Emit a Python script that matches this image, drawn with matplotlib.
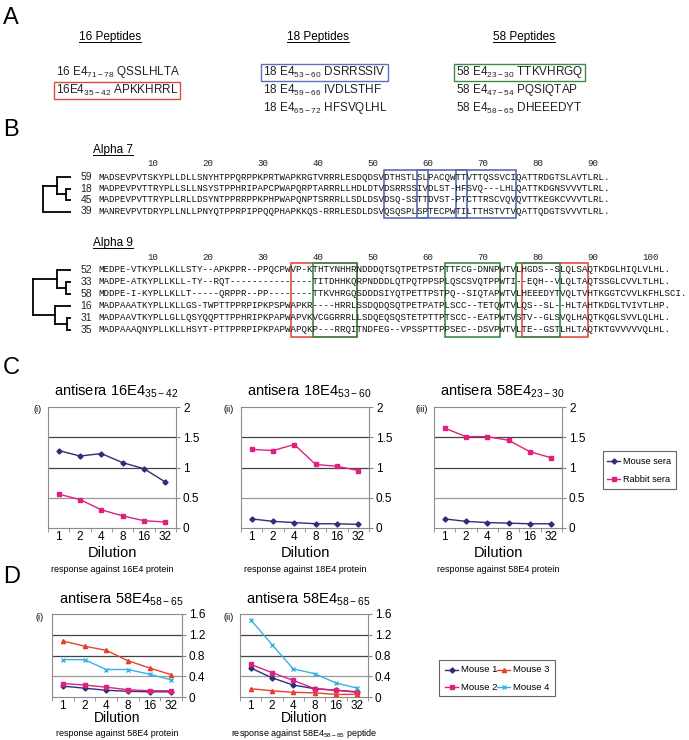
"""E4 peptide panels: peptide list, alpha-7 / alpha-9 alignments, ELISA titrations."""
import matplotlib
matplotlib.use("Agg")
import matplotlib.pyplot as plt
from matplotlib.patches import Rectangle
import numpy as np

W, H = 689, 740

# ---- panel A: peptides (prefix, residue range, sequence)
PEP16 = [("16 E4", "71-78", "QSSLHLTA"), ("16E4", "35-42", "APKKHRRL")]
PEP18 = [("18 E4", "53-60", "DSRRSSIV"), ("18 E4", "59-66", "IVDLSTHF"), ("18 E4", "65-72", "HFSVQLHL")]
PEP58 = [("58 E4", "23-30", "TTKVHRGQ"), ("58 E4", "47-54", "PQSIQTAP"), ("58 E4", "58-65", "DHEEEDYT")]

# ---- panel B: alignments
A7_NAMES = ["59", "18", "45", "39"]
A7_SEQS = [
    "MADSEVPVTSKYPLLDLLSNYHTPPQRPPKPRTWAPKRGTVRRRLESDQDSVDTHSTLSLPACQWTTVTTQSSVCIQATTRDGTSLAVTLRL.",
    "MADPEVPVTTRYPLLSLLNSYSTPPHRIPAPCPWAPQRPTARRRLLHDLDTVDSRRSSIVDLST-HFSVQ---LHLQATTKDGNSVVVTLRL.",
    "MADPEVPVTTRYPLLRLLDSYNTPPRRPPKPHPWAPQNPTSRRRLLSDLDSVDSQ-SSTTDVST-PTCTTRSCVQVQVTTKEGKCVVVTLRL.",
    "MANREVPVTDRYPLLNLLPNYQTPPRPIPPQQPHAPKKQS-RRRLESDLDSVQSQSPLSPTECPWTILTTHSTVTVQATTQDGTSVVVTLRL.",
]
A9_NAMES = ["52", "33", "58", "16", "31", "35"]
A9_SEQS = [
    "MEDPE-VTKYPLLKLLSTY--APKPPR--PPQCPWVP-KTHTYNHHRNDDDQTSQTPETPSTPTTFCG-DNNPWTVLHGDS--SLQLSAQTKDGLHIQLVLHL.",
    "MADPE-ATKYPLLKLL-TY--RQT---------------TITDHHKQRPNDDDLQTPQTPPSPLQSCSVQTPPWTI--EQH--VLQLTAQTSSGLCVVLTLHL.",
    "MDDPE-I-KYPLLKLLT-----QRPPR--PP--------TTKVHRGQSDDDSIYQTPETTPSTPQ--SIQTAPWTVLHEEEDYTVQLTVHTKGGTCVVLKFHLSCI.",
    "MADPAAATKYPLLKLLGS-TWPTTPPRPIPKPSPWAPKR----HRRLSSDQDQSQTPETPATPLSCC--TETQWTVLQS--SL--HLTAHTKDGLTVIVTLHP.",
    "MADPAAVTKYPLLGLLQSYQQPTTPPHRIPKPAPWAPVKVCGGRRRLLSDQEQSQSTETPTTPTSCC--EATPWTVSTV--GLSVQLHAQTKQGLSVVLQLHL.",
    "MADPAAAQNYPLLKLLHSYT-PTTPPRPIPKPAPWAPQKP---RRQITNDFEG--VPSSPTTPPSEC--DSVPWTVLTE--GSTLHLTAQTKTGVVVVVQLHL.",
]
A7_RULER = [10, 20, 30, 40, 50, 60, 70, 80, 90]
A9_RULER = [10, 20, 30, 40, 50, 60, 70, 80, 90, 100]
# boxed alignment columns (first, last)
A7_BLUE = [(53, 60), (59, 67), (66, 76)]
A9_RED = [(36, 47), (78, 89)]
A9_GREEN = [(40, 47), (64, 73), (77, 84)]
# trees: (node x, child, child), leaves are row indices
A7_TREE = (43, (57, 0, (66, 1, 2)), 3)
A9_TREE = (33, (57, 0, (66, 1, 2)), (55, 3, (67, 4, 5)))

# ---- panels C / D: ELISA titrations
DILUTION = ["1", "2", "4", "8", "16", "32"]
C_PEPTIDE = [("16E4", "35-42"), ("18E4", "53-60"), ("58E4", "23-30")]
C_TARGET = ["16E4 protein", "18E4 protein", "58E4 protein"]
C_MOUSE = [[1.28, 1.19, 1.23, 1.08, 0.98, 0.76],
           [0.15, 0.11, 0.09, 0.07, 0.07, 0.06],
           [0.15, 0.11, 0.09, 0.08, 0.07, 0.07]]
C_RABBIT = [[0.56, 0.47, 0.30, 0.20, 0.12, 0.10],
            [1.30, 1.28, 1.38, 1.05, 1.02, 0.95],
            [1.65, 1.51, 1.51, 1.45, 1.26, 1.16]]
D_TARGET = ["58E4 protein", "58E4$_{58-65}$ peptide"]
D_MOUSE1 = [[0.21, 0.17, 0.13, 0.11, 0.10, 0.10], [0.56, 0.37, 0.23, 0.16, 0.13, 0.10]]
D_MOUSE2 = [[0.26, 0.23, 0.19, 0.14, 0.12, 0.12], [0.63, 0.47, 0.32, 0.16, 0.13, 0.09]]
D_MOUSE3 = [[1.08, 0.98, 0.90, 0.70, 0.56, 0.43], [0.16, 0.12, 0.09, 0.08, 0.05, 0.05]]
D_MOUSE4 = [[0.72, 0.72, 0.53, 0.53, 0.44, 0.33], [1.49, 1.01, 0.54, 0.45, 0.27, 0.17]]

NAVY, MAGENTA, RED, CYAN = "#2e2f7a", "#e0207f", "#e8402e", "#33b3e5"
STYLE = {"Mouse 1": (NAVY, "D", 2.6), "Mouse 2": (MAGENTA, "s", 2.6),
         "Mouse 3": (RED, "^", 3.0), "Mouse 4": (CYAN, "x", 3.0)}

plt.rcParams["font.family"] = "Liberation Sans"
plt.rcParams["mathtext.default"] = "regular"

fig = plt.figure(figsize=(W / 100, H / 100), dpi=100)
ov = fig.add_axes([0, 0, 1, 1])
ov.set_xlim(0, W); ov.set_ylim(H, 0); ov.axis("off")


def txt(x, y, s, size, **kw):
    kw.setdefault("va", "center"); kw.setdefault("ha", "left")
    return ov.text(x, y, s, fontsize=size, **kw)


def rect(x0, y0, x1, y1):
    return [x0 / W, 1 - y1 / H, (x1 - x0) / W, (y1 - y0) / H]


for letter, y in (("A", 18), ("B", 130), ("C", 368), ("D", 577)):
    txt(3, y, letter, 17)

# ---------------- A
underline = []
for cx, name in ((110, "16 Peptides"), (318, "18 Peptides"), (524, "58 Peptides")):
    underline.append(txt(cx, 37, name, 8.5, ha="center"))
row_y = [72, 90, 108]
pep_text = {}
for j, (x0, peps) in enumerate(((56, PEP16), (263, PEP18), (456, PEP58))):
    for i, ((pre, rng, seq), y) in enumerate(zip(peps, row_y)):
        pep_text[j, i] = txt(x0, y, f"{pre}$_{{{rng}}}$ {seq}", 8.5, color="#222")
boxed = {(0, 1): "#e0483a", (1, 0): "#6070b8", (2, 0): "#3a8a4a"}

# ---------------- B
CW = 5.5
SEQ_X0 = 98
MONO = "Liberation Mono"
SEQ_SIZE = CW / 0.6 * 72 / 100


def col_x(c):
    return SEQ_X0 + (c - 1) * CW


def draw_clade(node, parent_x, rows, x_end=71):
    if isinstance(node, int):
        y = rows[node]
        ov.plot([parent_x, x_end], [y, y], color="k", lw=1.3, solid_capstyle="butt")
        return y
    x, a, b = node
    ya = draw_clade(a, x, rows); yb = draw_clade(b, x, rows)
    ov.plot([x, x], [ya, yb], color="k", lw=1.3, solid_capstyle="projecting")
    y = (ya + yb) / 2
    if parent_x is not None:
        ov.plot([parent_x, x], [y, y], color="k", lw=1.3)
    return y


def draw_alignment(title, title_y, ruler_y, rows, names, seqs, ruler, tree):
    underline.append(txt(93, title_y, title, 8.5))
    for n in ruler:
        txt(col_x(n), ruler_y, str(n), SEQ_SIZE, family=MONO, color="#222")
    for name, seq, y in zip(names, seqs, rows):
        txt(92, y, name, 7.5, ha="right", color="#222")
        txt(SEQ_X0, y, seq, SEQ_SIZE, family=MONO, color="#111")
    draw_clade(tree, None, rows)


def draw_boxes(spans, color, top, bottom):
    for a, b in spans:
        ov.add_patch(Rectangle((col_x(a), top), (b - a + 1) * CW, bottom - top,
                               fill=False, ec=color, lw=1.2))


a7_rows = [177, 188.5, 200, 211.5]
draw_alignment("Alpha 7", 150, 164, a7_rows, A7_NAMES, A7_SEQS, A7_RULER, A7_TREE)
draw_boxes(A7_BLUE, "#5a6cb4", 170, 218)

a9_rows = [270, 282, 294, 306, 318, 330]
draw_alignment("Alpha 9", 243, 257, a9_rows, A9_NAMES, A9_SEQS, A9_RULER, A9_TREE)
draw_boxes(A9_RED, "#e0503c", 263, 337)
draw_boxes(A9_GREEN, "#3a8a4a", 263, 337)


# ---------------- C / D charts
def style_chart(ax, ymax, step):
    ax.set_xlim(-0.5, 5.5); ax.set_ylim(0, ymax)
    ticks = np.round(np.arange(0, ymax + 1e-9, step), 2)
    ax.yaxis.tick_right()
    ax.set_yticks(ticks)
    ax.set_yticklabels([f"{t:g}" for t in ticks], fontsize=8.5)
    ax.tick_params(axis="y", length=3, pad=2, color="#888")
    for k, t in enumerate(ticks[1:-1]):
        ax.axhline(t, color="#999" if k == 0 else "#444", lw=0.9, zorder=1)
    ax.set_xticks(range(6)); ax.set_xticklabels(DILUTION, fontsize=8.5)
    ax.tick_params(axis="x", length=0, pad=2)
    ax.set_xticks(np.arange(-0.5, 6, 1), minor=True)
    ax.tick_params(axis="x", which="minor", length=3, color="#888")
    for s in ax.spines.values():
        s.set_color("#8c8c8c"); s.set_linewidth(0.8)


def under_labels(cx, y_dil, y_resp, target, size=10.5):
    txt(cx, y_dil, "Dilution", size, ha="center")
    txt(cx, y_resp, f"response against {target}", 6.5, ha="center")


C_X = [(48, 176), (241, 369), (434, 562)]
C_TAG = [(33, "(i)"), (223, "(ii)"), (415, "(iii)")]
for k, (x0, x1) in enumerate(C_X):
    ax = fig.add_axes(rect(x0, 407, x1, 528))
    style_chart(ax, 2, 0.5)
    ax.plot(range(6), C_MOUSE[k], color=NAVY, marker="D", ms=2.6, lw=1.0, zorder=3)
    ax.plot(range(6), C_RABBIT[k], color=MAGENTA, marker="s", ms=2.6, lw=1.0, zorder=3)
    cx = (x0 + x1) / 2
    name, rng = C_PEPTIDE[k]
    txt(cx + 4, 391, f"antisera {name}$_{{{rng}}}$", 10.5, ha="center")
    txt(C_TAG[k][0], 410, C_TAG[k][1], 6.5)
    under_labels(cx, 553, 570, C_TARGET[k])

# legend C
ov.add_patch(Rectangle((603, 451), 73, 38, fill=False, ec="#666", lw=0.8))
for y, lab, col, mk in ((461, "Mouse sera", NAVY, "D"), (479, "Rabbit sera", MAGENTA, "s")):
    ov.plot([607, 620], [y, y], color=col, lw=1.0)
    ov.plot([613.5], [y], color=col, marker=mk, ms=2.6)
    txt(623, y, lab, 6.6)

D_X = [(52, 182), (240, 368)]
D_TAG = [(36, "(i)"), (223, "(ii)")]
series = {"Mouse 1": D_MOUSE1, "Mouse 2": D_MOUSE2, "Mouse 3": D_MOUSE3, "Mouse 4": D_MOUSE4}
for k, (x0, x1) in enumerate(D_X):
    ax = fig.add_axes(rect(x0, 614, x1, 697))
    style_chart(ax, 1.6, 0.4)
    for lab, vals in series.items():
        col, mk, ms = STYLE[lab]
        ax.plot(range(6), vals[k], color=col, marker=mk, ms=ms, mew=1.0, lw=1.0, zorder=3)
    cx = (x0 + x1) / 2
    txt(cx + 4, 599, "antisera 58E4$_{58-65}$", 10.5, ha="center")
    txt(D_TAG[k][0], 618, D_TAG[k][1], 6.5)
    under_labels(cx, 718, 733, D_TARGET[k], size=10)

# legend D
ov.add_patch(Rectangle((439, 660), 116, 36, fill=False, ec="#666", lw=0.8))
for lab, (x, y) in zip(series, ((445, 670), (445, 687), (497, 670), (497, 687))):
    col, mk, ms = STYLE[lab]
    ov.plot([x, x + 13], [y, y], color=col, lw=1.0)
    ov.plot([x + 6.5], [y], color=col, marker=mk, ms=ms, mew=1.0)
    txt(x + 16, y, lab, 6.8)

# underlines and peptide boxes need rendered text extents
fig.canvas.draw()
inv = ov.transData.inverted()


def extent(artist):
    bb = artist.get_window_extent()
    (x0, y0), (x1, y1) = inv.transform([(bb.x0, bb.y0), (bb.x1, bb.y1)])
    return x0, x1, min(y0, y1), max(y0, y1)


for t in underline:
    x0, x1, _, yb = extent(t)
    ov.plot([x0, x1], [yb - 1.0, yb - 1.0], color="k", lw=0.7)
for (j, i), col in boxed.items():
    x0, x1, _, _ = extent(pep_text[j, i])
    y = row_y[i]
    ov.add_patch(Rectangle((x0 - 2, y - 8.5), x1 - x0 + 4, 17, fill=False, ec=col, lw=1.0))

fig.savefig("out.png", dpi=100)
